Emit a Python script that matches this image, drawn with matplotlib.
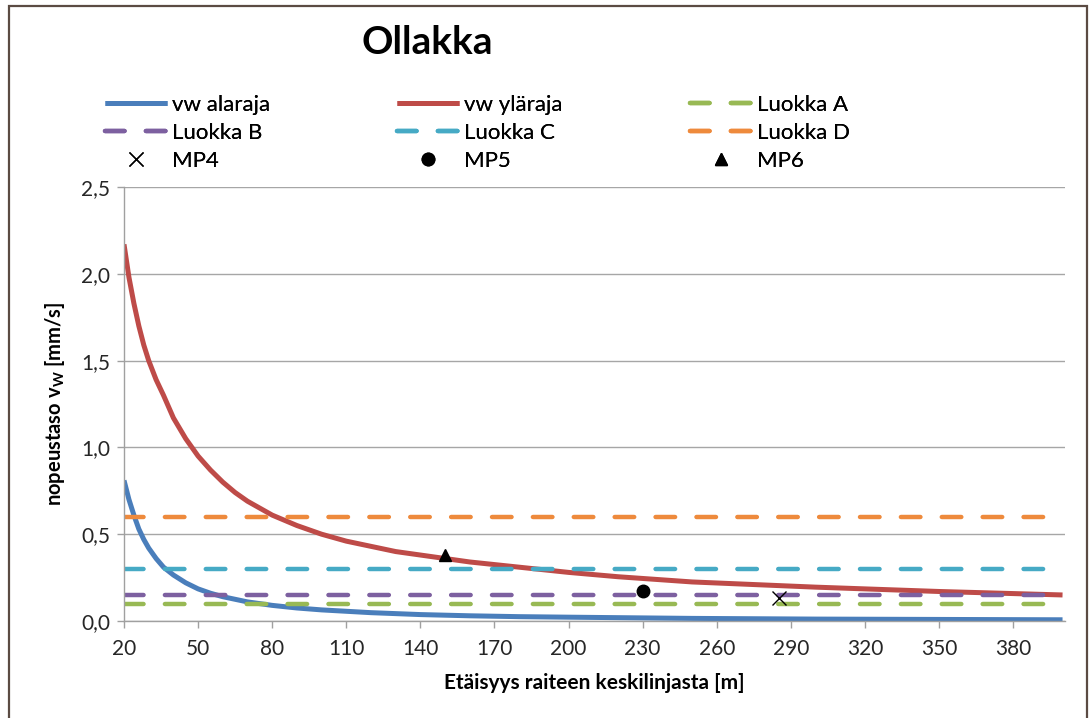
import matplotlib
matplotlib.use("Agg")
import matplotlib.pyplot as plt
from matplotlib.patches import Rectangle

# ---- data ----
dist_lower = [20, 22, 24, 26, 28, 30, 33, 36, 40, 45, 50, 55, 60, 70, 80, 90, 100,
              120, 140, 160, 180, 200, 250, 300, 350, 400]
vw_alaraja = [0.81, 0.70, 0.61, 0.53, 0.47, 0.42, 0.36, 0.31, 0.265, 0.22, 0.185,
              0.16, 0.14, 0.11, 0.09, 0.075, 0.064, 0.048, 0.037, 0.030, 0.025,
              0.022, 0.015, 0.011, 0.009, 0.007]
dist_upper = [20, 22, 24, 26, 28, 30, 33, 36, 40, 45, 50, 55, 60, 65, 70, 75, 80, 90,
              100, 110, 120, 130, 140, 150, 160, 180, 200, 220, 250, 275, 300, 350, 400]
vw_ylaraja = [2.17, 1.98, 1.83, 1.70, 1.59, 1.50, 1.39, 1.30, 1.17, 1.05, 0.95, 0.87,
              0.80, 0.74, 0.69, 0.65, 0.61, 0.55, 0.50, 0.46, 0.43, 0.40, 0.38, 0.36,
              0.34, 0.31, 0.28, 0.255, 0.225, 0.21, 0.195, 0.17, 0.15]
class_range = [20, 400]
luokka_A = [0.10, 0.10]
luokka_B = [0.15, 0.15]
luokka_C = [0.30, 0.30]
luokka_D = [0.60, 0.60]
mp4 = ([285], [0.135])
mp5 = ([230], [0.17])
mp6 = ([150], [0.38])
xticks = [20, 50, 80, 110, 140, 170, 200, 230, 260, 290, 320, 350, 380]
yticks = [0.0, 0.5, 1.0, 1.5, 2.0, 2.5]

plt.rcParams['font.family'] = ['Lato', 'DejaVu Sans']
plt.rcParams['mathtext.fontset'] = 'custom'
plt.rcParams['mathtext.rm'] = 'Lato'
plt.rcParams['mathtext.bf'] = 'Lato:bold'

fig = plt.figure(figsize=(10.91, 7.18), dpi=100)
ax = fig.add_axes([124/1091, 1-621/718, (1065-124)/1091, (621-187)/718])

c_blue = '#4A7EBB'
c_red = '#BE4B48'
c_green = '#98B954'
c_purple = '#7D60A0'
c_cyan = '#46AAC5'
c_orange = '#EE8A3C'

lw_solid = 3.6
lw_dash = 3.2
dash = (4.4, 4.8)

l1, = ax.plot(dist_lower, vw_alaraja, color=c_blue, lw=lw_solid, solid_capstyle='butt',
              solid_joinstyle='round', label='vw alaraja')
l2, = ax.plot(dist_upper, vw_ylaraja, color=c_red, lw=lw_solid, solid_capstyle='butt',
              solid_joinstyle='round', label='vw yläraja')
lA, = ax.plot(class_range, luokka_A, color=c_green, lw=lw_dash, ls=(0, dash), dash_capstyle='round', label='Luokka A')
lB, = ax.plot(class_range, luokka_B, color=c_purple, lw=lw_dash, ls=(0, dash), dash_capstyle='round', label='Luokka B')
lC, = ax.plot(class_range, luokka_C, color=c_cyan, lw=lw_dash, ls=(0, dash), dash_capstyle='round', label='Luokka C')
lD, = ax.plot(class_range, luokka_D, color=c_orange, lw=lw_dash, ls=(0, dash), dash_capstyle='round', label='Luokka D')
m4, = ax.plot(*mp4, ls='none', marker='x', ms=10, mew=1.0, color='black', label='MP4')
m5, = ax.plot(*mp5, ls='none', marker='o', ms=9, color='black', label='MP5')
m6, = ax.plot(*mp6, ls='none', marker='^', ms=9, color='black', label='MP6')

ax.set_xlim(20, 401)
ax.set_ylim(0, 2.5)
ax.set_xticks(xticks)
ax.set_xticklabels([str(v) for v in xticks])
ax.set_yticks(yticks)
ax.set_yticklabels([f"{v:.1f}".replace('.', ',') for v in yticks])
ax.yaxis.grid(True, color='#A6A6A6', lw=1.0)
ax.set_axisbelow(True)
for s in ['top', 'right']:
    ax.spines[s].set_visible(False)
for s in ['left', 'bottom']:
    ax.spines[s].set_color('#A0A0A0')
    ax.spines[s].set_linewidth(1.0)
ax.tick_params(axis='both', direction='out', length=5, width=1, color='#A0A0A0',
               labelsize=15, labelcolor='#262626')
ax.tick_params(axis='y', pad=5)
ax.tick_params(axis='x', pad=8)

ax.set_xlabel('Etäisyys raiteen keskilinjasta [m]', fontsize=15, fontweight='bold', labelpad=10)
ax.set_ylabel(r'nopeustaso v$_\mathbf{W}$ [mm/s]', fontsize=14.5, fontweight='bold', labelpad=10)

fig.text(427/1091, 1-43/718, 'Ollakka', fontsize=28, fontweight='bold', ha='center', va='center')

# legends: three columns
cols = [([l1, lB, m4], 105), ([l2, lC, m5], 397), ([lA, lD, m6], 690)]
for handles, xpx in cols:
    leg = fig.legend(handles=handles, loc='upper left', bbox_to_anchor=(xpx/1091, 1-95/718),
                     frameon=False, fontsize=16, handlelength=2.8, handletextpad=0.2,
                     labelspacing=0.35, borderaxespad=0, borderpad=0)
    fig.add_artist(leg)

# chart border
fig.add_artist(Rectangle((9/1091, -0.02), (1087-9)/1091, 1-6/718+0.02, transform=fig.transFigure,
                         fill=False, edgecolor='#5B4B43', lw=1.6, clip_on=False))

fig.savefig('out.png', dpi=100)
